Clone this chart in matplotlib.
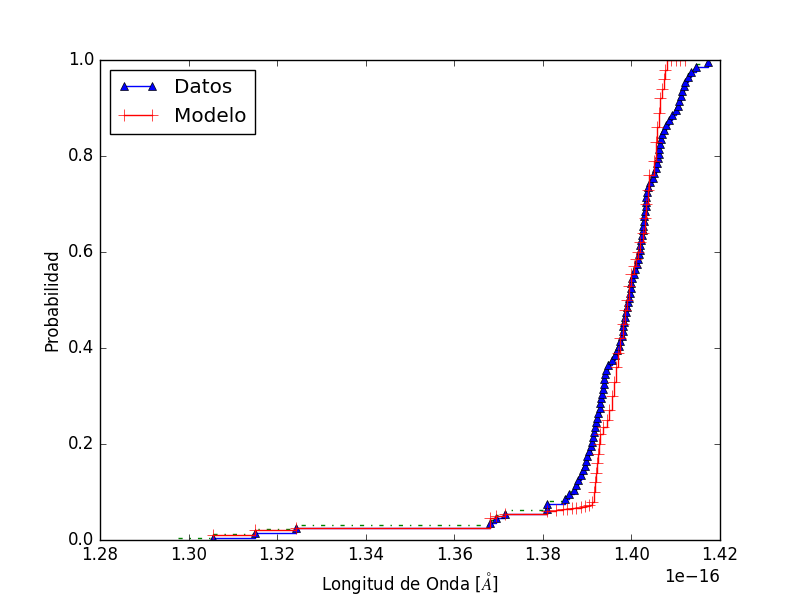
import numpy as np
import matplotlib
matplotlib.use('Agg')
import matplotlib.pyplot as plt

plt.style.use('classic')

# Datos (en unidades de 1e-16)
datos_x = [1.3055, 1.3150, 1.3243, 1.3680, 1.3695, 1.3715, 1.3810, 1.3810, 1.3850, 1.3860,
           1.3870, 1.3875, 1.3880, 1.3885, 1.3890, 1.3895, 1.3898, 1.3900, 1.3905, 1.3908,
           1.3910, 1.3913, 1.3915, 1.3918, 1.3920, 1.3922, 1.3925, 1.3928, 1.3930, 1.3932,
           1.3933, 1.3935, 1.3937, 1.3938, 1.3940, 1.3942, 1.3948, 1.3955, 1.3962, 1.3968,
           1.3972, 1.3975, 1.3978, 1.3980, 1.3982, 1.3984, 1.3986, 1.3988, 1.3990, 1.3993,
           1.3995, 1.3997, 1.3999, 1.4000, 1.4002, 1.4005, 1.4008, 1.4012, 1.4015, 1.4017,
           1.4019, 1.4020, 1.4022, 1.4023, 1.4025, 1.4026, 1.4028, 1.4029, 1.4030, 1.4032,
           1.4033, 1.4034, 1.4035, 1.4037, 1.4042, 1.4048, 1.4052, 1.4055, 1.4058, 1.4060,
           1.4062, 1.4063, 1.4065, 1.4067, 1.4070, 1.4073, 1.4078, 1.4085, 1.4092, 1.4100,
           1.4105, 1.4108, 1.4112, 1.4115, 1.4118, 1.4122, 1.4127, 1.4135, 1.4145, 1.4172]

modelo_x = [1.3055, 1.3150, 1.3243, 1.3680, 1.3695, 1.3715, 1.3810, 1.3830, 1.3845, 1.3855,
            1.3865, 1.3875, 1.3885, 1.3895, 1.3905, 1.3912, 1.3915, 1.3918, 1.3920, 1.3922,
            1.3924, 1.3926, 1.3930, 1.3935, 1.3945, 1.3950, 1.3955, 1.3960, 1.3965, 1.3970,
            1.3975, 1.3980, 1.3985, 1.3990, 1.3995, 1.4000, 1.4005, 1.4010, 1.4015, 1.4020,
            1.4025, 1.4030, 1.4033, 1.4037, 1.4040, 1.4050, 1.4055, 1.4058, 1.4062, 1.4065,
            1.4070, 1.4073, 1.4076, 1.4080, 1.4090, 1.4100, 1.4110, 1.4120]
modelo_y = [0.010, 0.020, 0.025, 0.045, 0.050, 0.055, 0.060, 0.063, 0.064, 0.065,
            0.066, 0.067, 0.069, 0.070, 0.072, 0.080, 0.100, 0.120, 0.140, 0.160,
            0.180, 0.200, 0.220, 0.235, 0.250, 0.270, 0.300, 0.330, 0.360, 0.390,
            0.420, 0.450, 0.480, 0.500, 0.530, 0.555, 0.570, 0.585, 0.600, 0.620,
            0.640, 0.670, 0.700, 0.730, 0.760, 0.790, 0.830, 0.860, 0.890, 0.920,
            0.940, 0.960, 0.980, 1.000, 1.000, 1.000, 1.000, 1.000]

ajuste_x0 = 1.2975

dx = np.array(datos_x) * 1e-16
n = len(dx)
dy = (np.arange(n) + 0.5) / n
mx = np.array(modelo_x) * 1e-16
my = np.array(modelo_y)

fig = plt.figure(figsize=(8, 6), dpi=100)
ax = fig.add_subplot(111)
ax.plot(np.concatenate([[ajuste_x0 * 1e-16], dx]), np.concatenate([[0.004], dy + 0.007]),
        'g-.', drawstyle='steps-post')
ax.plot(dx, dy, 'b^-', drawstyle='steps-post', label='Datos')
ax.plot(mx, my, 'r+-', drawstyle='steps-post', label='Modelo', markersize=8)
ax.set_xlim(1.28e-16, 1.42e-16)
ax.set_ylim(0, 1)
ax.set_xlabel('Longitud de Onda [$\\AA$]')
ax.set_ylabel('Probabilidad')
ax.legend(loc='upper left')
fig.savefig('out.png', dpi=100)
